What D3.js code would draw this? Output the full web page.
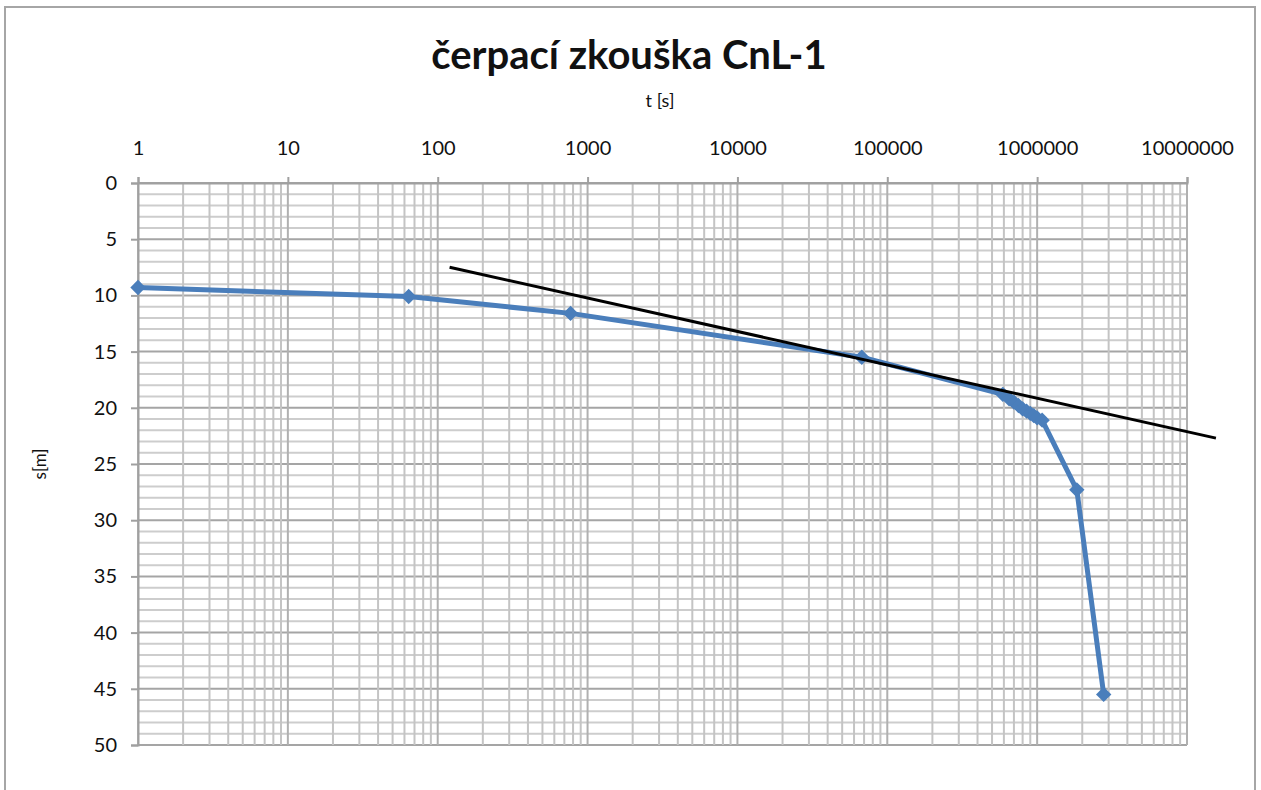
<!DOCTYPE html>
<html><head><meta charset="utf-8">
<script src="https://cdn.jsdelivr.net/npm/d3@7"></script>
<style>body{margin:0;background:#fff}svg{display:block}</style>
</head><body>
<svg id="c" width="1261" height="790"></svg>
<script>
const timeS = [1, 64, 770, 67600, 590000, 650000, 700000, 750000, 800000, 850000, 900000, 950000, 1000000, 1080000, 1840000, 2780000];
const drawdownM = [9.3, 10.1, 11.6, 15.5, 18.8, 19.2, 19.5, 19.8, 20.1, 20.3, 20.5, 20.7, 20.9, 21.1, 27.3, 45.5];
const trendT = [120, 15600000];
const trendS = [7.5, 22.7];
const xTickLabels = ["1","10","100","1000","10000","100000","1000000","10000000"];
const yTickLabels = [0,5,10,15,20,25,30,35,40,45,50];
const titleText = "čerpací zkouška CnL-1";
const xTitle = "t [s]";
const yTitle = "s[m]";

const svg = d3.select("#c");
const L = 138, R = 1187, T = 183, B = 745;
const x = d3.scaleLog().domain([1, 1e7]).range([L, R]);
const y = d3.scaleLinear().domain([0, 50]).range([T, B]);
const font = "Lato, 'Open Sans', sans-serif";

svg.append("rect").attr("x",5).attr("y",7).attr("width",1250).attr("height",790)
  .attr("fill","#fff").attr("stroke","#a6a6a6").attr("stroke-width",2);

// horizontal grid
const g = svg.append("g");
d3.range(0, 51).forEach(v => {
  const major = v % 5 === 0;
  g.append("line").attr("x1", L).attr("x2", R).attr("y1", y(v)).attr("y2", y(v))
    .attr("stroke", major ? "#a5a5a5" : "#cdcdcd").attr("stroke-width", 2);
});
// vertical grid
for (let d = 0; d < 7; d++) {
  for (let m = 2; m <= 9; m++) {
    const v = m * Math.pow(10, d);
    g.append("line").attr("x1", x(v)).attr("x2", x(v)).attr("y1", T).attr("y2", B)
      .attr("stroke", "#c4c4c4").attr("stroke-width", 2);
  }
}
for (let d = 0; d <= 7; d++) {
  const v = Math.pow(10, d);
  g.append("line").attr("x1", x(v)).attr("x2", x(v)).attr("y1", T).attr("y2", B)
    .attr("stroke", "#b0b0b0").attr("stroke-width", 2);
}

// axes
const xAxis = d3.axisTop(x).tickValues(xTickLabels.map(Number)).tickFormat((d,i)=>xTickLabels[i]).tickSize(6).tickPadding(22);
const gx = svg.append("g").attr("transform", `translate(0,${T})`).call(xAxis);
gx.select(".domain").attr("stroke","#a0a0a0").attr("stroke-width",2);
gx.selectAll(".tick line").attr("stroke","#a0a0a0").attr("stroke-width",2);
gx.selectAll("text").attr("font-family", font).attr("font-size", 20).attr("fill","#111");

const yAxis = d3.axisLeft(y).tickValues(yTickLabels).tickSize(7).tickPadding(14);
const gy = svg.append("g").attr("transform", `translate(${L},0)`).call(yAxis);
gy.select(".domain").attr("stroke","#a0a0a0").attr("stroke-width",2);
gy.selectAll(".tick line").attr("stroke","#a0a0a0").attr("stroke-width",2);
gy.selectAll("text").attr("font-family", font).attr("font-size", 20).attr("fill","#111");

// series
const pts = timeS.map((t,i)=>[t, drawdownM[i]]);
svg.append("path").datum(pts)
  .attr("d", d3.line().x(d=>x(d[0])).y(d=>y(d[1])))
  .attr("fill","none").attr("stroke","#4a7ebb").attr("stroke-width",5).attr("stroke-linejoin","round");
svg.append("g").selectAll("path").data(pts).join("path")
  .attr("transform", d=>`translate(${x(d[0])},${y(d[1])}) rotate(45)`)
  .attr("d", d3.symbol(d3.symbolSquare, 118))
  .attr("fill","#4a7ebb");

// trend line
const tl = trendT.map((t,i)=>[t, trendS[i]]);
svg.append("path").datum(tl)
  .attr("d", d3.line().x(d=>x(d[0])).y(d=>y(d[1])))
  .attr("stroke","#000").attr("stroke-width",3).attr("fill","none");

// titles
svg.append("text").attr("x", 629).attr("y", 69).attr("text-anchor","middle")
  .attr("font-family", font).attr("font-weight","bold").attr("font-size", 40).attr("fill","#111").text(titleText);
svg.append("text").attr("x", 660).attr("y", 107).attr("text-anchor","middle")
  .attr("font-family", font).attr("font-size", 18).attr("fill","#111").text(xTitle);
svg.append("text").attr("transform","translate(46,464) rotate(-90)").attr("text-anchor","middle")
  .attr("font-family", font).attr("font-size", 17).attr("fill","#111").text(yTitle);
</script>
</body></html>
